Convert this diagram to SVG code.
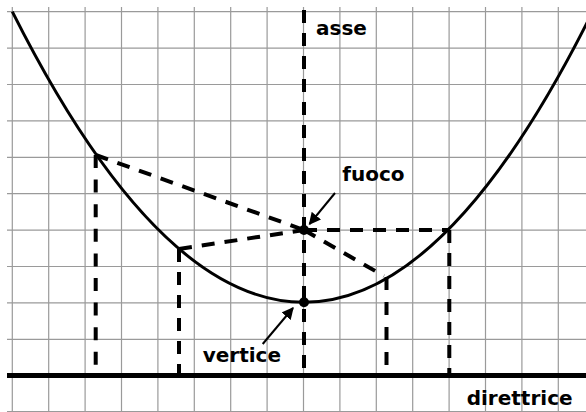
<svg xmlns="http://www.w3.org/2000/svg" width="586" height="412" viewBox="0 0 586 412">
<style>
.grid line{stroke:#9a9a9a;stroke-width:1.2}
.dash{stroke:#000;stroke-width:4;stroke-dasharray:13 10;fill:none}
.lbl{font-family:"DejaVu Sans","Liberation Sans",sans-serif;font-weight:bold;font-size:20px;fill:#000}
.arr{stroke:#000;stroke-width:2;fill:none;marker-end:url(#ah)}
</style>
<defs>
<marker id="ah" viewBox="0 0 10 10" refX="9" refY="5" markerWidth="6" markerHeight="6" orient="auto" markerUnits="strokeWidth">
<path d="M0,0 L10,5 L0,10 z" fill="#000"/>
</marker>
</defs>
<rect width="586" height="412" fill="#fff"/>
<g id="grid" class="grid">
<line x1="12.3" y1="7" x2="12.3" y2="412"/>
<line x1="48.7" y1="7" x2="48.7" y2="412"/>
<line x1="85.1" y1="7" x2="85.1" y2="412"/>
<line x1="121.5" y1="7" x2="121.5" y2="412"/>
<line x1="157.9" y1="7" x2="157.9" y2="412"/>
<line x1="194.3" y1="7" x2="194.3" y2="412"/>
<line x1="230.7" y1="7" x2="230.7" y2="412"/>
<line x1="267.1" y1="7" x2="267.1" y2="412"/>
<line x1="303.5" y1="7" x2="303.5" y2="412"/>
<line x1="339.9" y1="7" x2="339.9" y2="412"/>
<line x1="376.3" y1="7" x2="376.3" y2="412"/>
<line x1="412.7" y1="7" x2="412.7" y2="412"/>
<line x1="449.1" y1="7" x2="449.1" y2="412"/>
<line x1="485.5" y1="7" x2="485.5" y2="412"/>
<line x1="521.9" y1="7" x2="521.9" y2="412"/>
<line x1="558.3" y1="7" x2="558.3" y2="412"/>
<line x1="7" y1="11.7" x2="586" y2="11.7"/>
<line x1="7" y1="48.1" x2="586" y2="48.1"/>
<line x1="7" y1="84.5" x2="586" y2="84.5"/>
<line x1="7" y1="120.9" x2="586" y2="120.9"/>
<line x1="7" y1="157.3" x2="586" y2="157.3"/>
<line x1="7" y1="193.7" x2="586" y2="193.7"/>
<line x1="7" y1="230.1" x2="586" y2="230.1"/>
<line x1="7" y1="266.5" x2="586" y2="266.5"/>
<line x1="7" y1="302.9" x2="586" y2="302.9"/>
<line x1="7" y1="339.3" x2="586" y2="339.3"/>
<line x1="7" y1="411.5" x2="586" y2="411.5"/>
</g>
<g id="connectors">
<line class="dash" x1="304" y1="10" x2="304" y2="375"/>
<line class="dash" x1="95.7" y1="155" x2="304" y2="230"/>
<line class="dash" x1="179" y1="249" x2="304" y2="230"/>
<line class="dash" x1="304" y1="230" x2="384" y2="276"/>
<line class="dash" x1="304" y1="230" x2="449.3" y2="230"/>
<line class="dash" style="stroke-dasharray:13 11.6" x1="95.7" y1="155" x2="95.7" y2="365"/>
<line class="dash" x1="179" y1="249" x2="179" y2="375"/>
<line class="dash" style="stroke-dasharray:13 12" x1="386.5" y1="277" x2="386.5" y2="365"/>
<line class="dash" x1="449.3" y1="230" x2="449.3" y2="375"/>
<line class="arr" x1="335" y1="193" x2="309.5" y2="224"/>
<line class="arr" x1="262.7" y1="344" x2="293" y2="308"/>
</g>
<g id="directrix">
<line x1="7" y1="375.5" x2="586" y2="375.5" stroke="#000" stroke-width="5"/>
<text class="lbl" x="466.7" y="405">direttrice</text>
</g>
<g id="parabola">
<path d="M12.3,11.7 Q158.4,302.3 304,302.3 Q449.6,302.3 595.2,6.4" fill="none" stroke="#000" stroke-width="3"/>
</g>
<g id="axis-label"><text class="lbl" x="316" y="35">asse</text></g>
<g id="focus">
<circle cx="304" cy="230" r="5" fill="#000"/>
<text class="lbl" x="342.3" y="180.7">fuoco</text>
</g>
<g id="vertex">
<circle cx="304" cy="302.3" r="5" fill="#000"/>
<text class="lbl" x="202.7" y="361.7">vertice</text>
</g>
</svg>
